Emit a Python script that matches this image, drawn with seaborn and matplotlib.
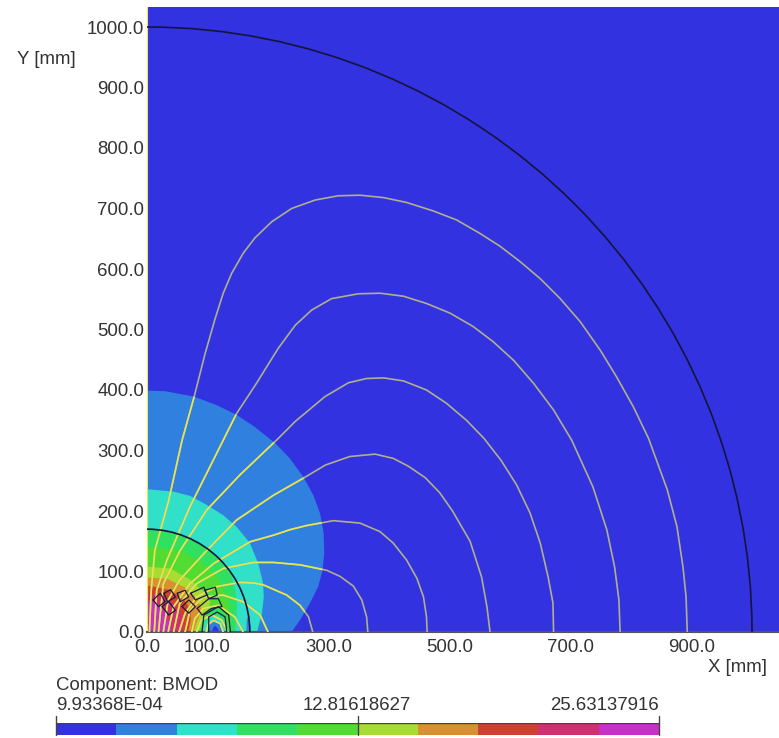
import numpy as np
import pandas as pd
import seaborn as sns
import matplotlib.pyplot as plt
from matplotlib.colors import ListedColormap
from matplotlib.patches import Arc

# band colours, low to high BMOD
band_colors = ['#3232e0', '#3080e0', '#30e0c8', '#30e060', '#50dc30',
               '#a8dc30', '#d89030', '#d04030', '#d03070', '#c830c8']

# contour band outlines in mm, outermost first: (colour index, points)
band_outlines = [
    (1, [(0, 399), (30, 398), (78, 389), (115, 375), (148, 359), (178, 339), (212, 312), (236, 287), (258, 257), (275, 226), (286, 196), (292, 163), (293, 130), (290, 102), (283, 75), (269, 47), (253, 20), (239, 0)]),
    (2, [(0, 236), (44, 232), (71, 225), (99, 210), (126, 193), (148, 174), (170, 147), (184, 113), (192, 80), (193, 58), (190, 31), (182, 0)]),
    (1, [(164, 0), (165, 20), (168, 31), (171, 0)]),
    (3, [(0, 170), (30, 167), (60, 159), (90, 144), (115, 125), (138, 99), (146, 69), (149, 42), (146, 0)]),
    (4, [(0, 141), (55, 135), (94, 113), (118, 88), (134, 55), (138, 25), (135, 0)]),
    (5, [(0, 108), (39, 105), (72, 86), (95, 65), (105, 50), (98, 30), (90, 10), (85, 0)]),
    (6, [(0, 90), (33, 88), (66, 72), (85, 52), (90, 35), (82, 15), (77, 0)]),
    (7, [(0, 77), (39, 69), (61, 53), (72, 38), (72, 20), (68, 0)]),
    (8, [(0, 64), (25, 60), (45, 47), (58, 30), (60, 0)]),
    (9, [(0, 53), (17, 47), (30, 31), (38, 15), (41, 0)]),
    (3, [(88, 0), (91, 18), (102, 36), (115, 42), (130, 30), (137, 0)]),
    (2, [(92, 0), (95, 15), (105, 26), (115, 28), (126, 20), (132, 0)]),
    (1, [(100, 0), (104, 12), (112, 19), (120, 14), (125, 0)]),
    (0, [(107, 0), (110, 8), (113, 10), (117, 6), (119, 0)]),
]

# flux lines in mm
line_a = [(4, 0), (7, 69), (13, 135), (36, 218), (58, 317), (78, 389), (96, 460), (112, 516), (126, 560), (140, 593), (159, 626), (178, 651), (206, 678), (239, 700), (278, 714), (316, 721), (352, 722), (391, 718), (429, 710), (473, 696), (512, 681), (550, 659), (583, 638), (617, 612), (650, 584), (683, 551), (716, 513), (749, 466), (776, 422), (804, 372), (829, 320), (860, 235), (876, 174), (886, 107), (891, 58), (893, 0)]
line_b = [(12, 0), (16, 69), (33, 119), (71, 207), (126, 317), (148, 361), (179, 408), (217, 469), (245, 507), (272, 532), (305, 551), (349, 559), (385, 560), (424, 555), (462, 543), (501, 527), (539, 505), (572, 480), (606, 449), (639, 411), (672, 367), (702, 317), (737, 240), (760, 169), (773, 107), (780, 53), (782, 0)]
line_c = [(19, 0), (27, 80), (55, 135), (99, 202), (154, 260), (214, 317), (245, 348), (294, 389), (333, 412), (363, 419), (391, 420), (424, 415), (462, 400), (495, 378), (528, 350), (557, 320), (585, 284), (611, 243), (633, 197), (650, 147), (663, 91), (671, 48), (672, 0)]
line_d = [(27, 0), (35, 53), (54, 86), (99, 135), (148, 185), (209, 226), (258, 254), (295, 276), (335, 290), (377, 294), (407, 287), (432, 274), (460, 255), (484, 230), (505, 200), (534, 150), (553, 91), (562, 41), (567, 0)]
line_e = [(35, 0), (44, 42), (71, 80), (110, 113), (170, 149), (209, 160), (236, 169), (264, 176), (308, 184), (352, 180), (385, 166), (407, 147), (429, 119), (446, 89), (457, 58), (462, 25), (463, 0)]
line_f = [(44, 0), (54, 47), (82, 80), (126, 105), (176, 115), (209, 115), (253, 111), (297, 102), (319, 92), (341, 76), (355, 53), (363, 25), (365, 0)]
line_g = [(53, 0), (63, 31), (82, 58), (115, 75), (154, 82), (176, 81), (192, 78), (231, 61), (253, 44), (267, 25), (274, 0)]
line_h = [(63, 0), (71, 36), (93, 58), (126, 61), (159, 50), (187, 28), (200, 0)]
line_i = [(74, 0), (79, 22), (93, 39), (118, 44), (145, 25), (159, 0)]
line_j = [(82, 0), (90, 20), (107, 28), (123, 20), (134, 0)]
line_k = [(98, 0), (101, 13), (110, 19), (121, 14), (126, 0)]
flux_lines = [line_a, line_b, line_c, line_d, line_e, line_f, line_g, line_h, line_i, line_j, line_k]

# coil blocks and iron outlines in mm
coil_blocks = [
    [(10, 53), (22, 64), (30, 50), (19, 42), (10, 53)],
    [(28, 64), (39, 70), (47, 58), (34, 50), (28, 64)],
    [(25, 42), (36, 50), (47, 36), (36, 28), (25, 42)],
    [(50, 64), (63, 69), (69, 58), (55, 50), (50, 64)],
    [(58, 42), (69, 53), (80, 42), (69, 31), (58, 42)],
    [(72, 64), (94, 74), (99, 61), (80, 53), (72, 64)],
    [(96, 69), (113, 74), (116, 61), (102, 55), (96, 69)],
    [(83, 39), (102, 55), (118, 55), (124, 42), (107, 39), (91, 28), (83, 39)],
    [(91, 0), (94, 28), (118, 42), (135, 28), (138, 0)],
    [(102, 0), (102, 25), (116, 33), (129, 25), (132, 0)],
]
arc_radii = [1000, 170]

y_ticks = [0, 100, 200, 300, 400, 500, 600, 700, 800, 900, 1000]
x_ticks = [0, 100, 300, 500, 700, 900]
scale_values = ['9.93368E-04', '12.81618627', '25.63137916']

W, H = 779, 738
sns.set_style('white')
plt.rcParams['font.family'] = ['Liberation Sans', 'DejaVu Sans']
text_color = '#333333'

fig = plt.figure(figsize=(W / 100, H / 100), dpi=100)
ax = fig.add_axes([147 / W, 1 - 632 / H, (W - 147) / W, 625 / H])
ax.set_facecolor(band_colors[0])

field_patches = []
for color_idx, outline in band_outlines:
    xs, ys = zip(*outline)
    if xs[0] == 0:
        # closes through the origin
        xs, ys = xs + (0,), ys + (0,)
    field_patches += ax.fill(xs, ys, color=band_colors[color_idx], lw=0, zorder=1)

rows = []
for i, pts in enumerate(flux_lines):
    rows += [{'line': i, 'x': p[0], 'y': p[1]} for p in pts]
flux_df = pd.DataFrame(rows)

# the lines read grey over the dark blue and yellow inside the field
sns.lineplot(data=flux_df, x='x', y='y', units='line', estimator=None, sort=False,
             color='#b0b08c', lw=1.2, ax=ax, zorder=3)
n_before = len(ax.lines)
sns.lineplot(data=flux_df, x='x', y='y', units='line', estimator=None, sort=False,
             color='#e6e650', lw=1.2, ax=ax, zorder=3)
for line in ax.lines[n_before:]:
    line.set_clip_path(field_patches[0])

rows = []
for i, pts in enumerate(coil_blocks):
    rows += [{'block': i, 'x': p[0], 'y': p[1]} for p in pts]
coil_df = pd.DataFrame(rows)
sns.lineplot(data=coil_df, x='x', y='y', units='block', estimator=None, sort=False,
             color='#1a1a40', lw=0.9, ax=ax, zorder=4)

for r in arc_radii:
    ax.add_patch(Arc((0, 0), 2 * r, 2 * r, theta1=0, theta2=90, color='#14143c', lw=1.2, zorder=4))

ax.set_xlim(0, (W - 147) / 0.605)
ax.set_ylim(0, 625 / 0.605)
ax.set_xticks(x_ticks, [f'{v:.1f}' for v in x_ticks])
ax.set_yticks(y_ticks, [f'{v:.1f}' for v in y_ticks])
ax.tick_params(length=0, labelsize=13.4, labelcolor=text_color, pad=2)
ax.tick_params(axis='x', pad=5)
ax.set_xlabel('')
ax.set_ylabel('')
sns.despine(ax=ax, top=True, right=True)
ax.spines['left'].set_color('#e8e850')
ax.spines['bottom'].set_color('#555555')
ax.spines['bottom'].set_linewidth(1.5)

fig.text(737 / W, 1 - 667 / H, 'X [mm]', ha='center', va='center', fontsize=13.4, color=text_color)
fig.text(46 / W, 1 - 60 / H, 'Y [mm]', ha='center', va='center', fontsize=13.4, color=text_color)
fig.text(56 / W, 1 - 686 / H, 'Component: BMOD', ha='left', va='center', fontsize=13.4, color=text_color)
fig.text(56 / W, 1 - 706 / H, scale_values[0], ha='left', va='center', fontsize=13.4, color=text_color)
fig.text(357 / W, 1 - 706 / H, scale_values[1], ha='center', va='center', fontsize=13.4, color=text_color)
fig.text(659 / W, 1 - 706 / H, scale_values[2], ha='right', va='center', fontsize=13.4, color=text_color)

# scale bar, one cell per band
cax = fig.add_axes([56 / W, 1 - 735 / H, 603 / W, 12 / H])
sns.heatmap(np.arange(10).reshape(1, 10), cmap=ListedColormap(band_colors), cbar=False,
            xticklabels=False, yticklabels=False, ax=cax)
for x in [0, 5, 10]:
    cax.plot([x, x], [-0.55, 1], color='#444444', lw=1, clip_on=False)
cax.plot([0, 10], [0, 0], color='#444444', lw=1)

fig.savefig('out.png', dpi=100, facecolor='white')
